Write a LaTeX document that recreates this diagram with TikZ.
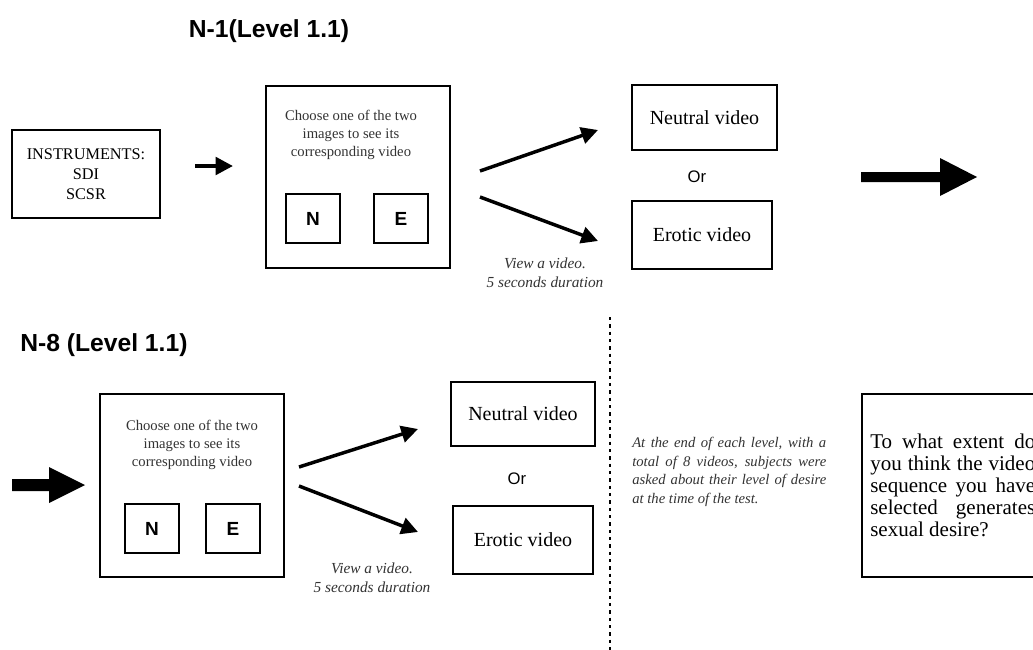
\documentclass[tikz,border=0pt]{standalone}
\usepackage{fontspec}
\setmainfont{Liberation Serif}
\newfontfamily\hv{Liberation Sans}
\usetikzlibrary{arrows.meta}
\definecolor{txtgray}{gray}{0.2}
\tikzset{
  box/.style={draw, line width=1.4pt, inner sep=0pt, outer sep=0pt},
  smallbox/.style={draw, line width=1.2pt, inner sep=0pt, outer sep=0pt,
    minimum width=40.5pt, minimum height=36.75pt,
    font=\hv\bfseries\fontsize{14.25}{16}\selectfont},
  title/.style={font=\hv\bfseries\fontsize{18.5}{22}\selectfont, inner sep=0pt},
  choosetxt/.style={align=center, inner sep=0pt, text=txtgray,
    font=\fontsize{11}{13.5}\selectfont},
  vidbox/.style={box, font=\fontsize{15}{18}\selectfont},
  ortxt/.style={font=\hv\fontsize{12.5}{15}\selectfont, inner sep=0pt},
  viewtxt/.style={align=center, inner sep=0pt, text=txtgray,
    font=\itshape\fontsize{11.5}{14.25}\selectfont},
  branch/.style={line width=2.6pt, -{Triangle[length=12.5pt,width=12.5pt]}},
  thinarrow/.style={line width=3pt, -{Triangle[length=13pt,width=13pt]}},
  bigarrow/.style={fill=black, draw=none},
}
\begin{document}
\begin{tikzpicture}[x=0.75pt,y=-0.75pt]
\clip (0,0) rectangle (1033,650);
\fill[white] (0,0) rectangle (1033,650);

% ---------- N-1 ----------
\node[title] (t1) at (269,31) {N-1(Level 1.1)};

\node[box, minimum width=111pt, minimum height=66pt, align=center,
      font=\fontsize{12.2}{15}\selectfont] (instr) at (86,174)
      {INSTRUMENTS:\\SDI\\SCSR};

\coordinate (sa1) at (195,166);
\coordinate (sa2) at (233,166);
\draw[thinarrow] (sa1) -- (sa2);

\node[box, minimum width=138pt, minimum height=136.5pt] (ch1) at (358,177) {};
\node[choosetxt] (ch1t) at (351,135) {Choose one of the two\\images to see its\\corresponding video};
\node[smallbox] (n1) at (313,218.5) {N};
\node[smallbox] (e1) at (401,218.5) {E};

\node[vidbox, minimum width=108.75pt, minimum height=48.75pt] (nv1) at (704.5,117.5) {Neutral video};
\node[ortxt] (or1) at (697,177) {Or};
\node[vidbox, minimum width=105pt, minimum height=51pt] (ev1) at (702,235) {Erotic video};

\coordinate (b1s) at (480,171);
\coordinate (b1e) at (598,130);
\coordinate (b2s) at (480,197);
\coordinate (b2e) at (598,241);
\draw[branch] (b1s) -- (b1e);
\draw[branch] (b2s) -- (b2e);
\node[viewtxt] (v1) at (545,273) {View a video.\\5 seconds duration};

\coordinate (ba1) at (861,177);
\fill[bigarrow] (ba1) ++(0,-5) -- ++(79,0) -- ++(0,-14) -- ++(37,19)
  -- ++(-37,19) -- ++(0,-14) -- ++(-79,0) -- cycle;

% ---------- N-8 ----------
\node[title, anchor=west] (t2) at (20,345) {N-8 (Level 1.1)};

\coordinate (ba2) at (12,485);
\fill[bigarrow] (ba2) ++(0,-6) -- ++(37,0) -- ++(0,-12) -- ++(36,18)
  -- ++(-36,18) -- ++(0,-12) -- ++(-37,0) -- cycle;

\node[box, minimum width=138pt, minimum height=137.25pt] (ch2) at (192,485.5) {};
\node[choosetxt] (ch2t) at (192,445) {Choose one of the two\\images to see its\\corresponding video};
\node[smallbox] (n2) at (152,528.5) {N};
\node[smallbox] (e2) at (233,528.5) {E};

\node[vidbox, minimum width=108pt, minimum height=48pt] (nv2) at (523,414) {Neutral video};
\node[ortxt] (or2) at (517,479) {Or};
\node[vidbox, minimum width=105pt, minimum height=51pt] (ev2) at (523,540) {Erotic video};

\coordinate (c1s) at (299,467);
\coordinate (c1e) at (418,429);
\coordinate (c2s) at (299,486);
\coordinate (c2e) at (418,532);
\draw[branch] (c1s) -- (c1e);
\draw[branch] (c2s) -- (c2e);
\node[viewtxt] (v2) at (372,578) {View a video.\\5 seconds duration};

\coordinate (dt) at (610,317);
\coordinate (db) at (610,652);
\draw[line width=2pt, dash pattern=on 2.5pt off 3pt] (dt) -- (db);

\node[anchor=north west, inner sep=0pt, text width=145.5pt, align=justify,
      text=txtgray, font=\itshape\fontsize{11}{14}\selectfont] (para) at (632,437)
  {At the end of each level, with a total of 8 videos, subjects were asked about their level of desire at the time of the test.};

\node[box, minimum width=141pt, minimum height=137.25pt] (qbox) at (956,485.5) {};
\node[anchor=west, inner sep=0pt, text width=123.75pt, align=justify,
      font=\fontsize{15.75}{16.5}\selectfont] (qtxt) at (870,485)
  {To what extent do you think the video sequence you have selected generates sexual desire?};
\end{tikzpicture}
\end{document}
